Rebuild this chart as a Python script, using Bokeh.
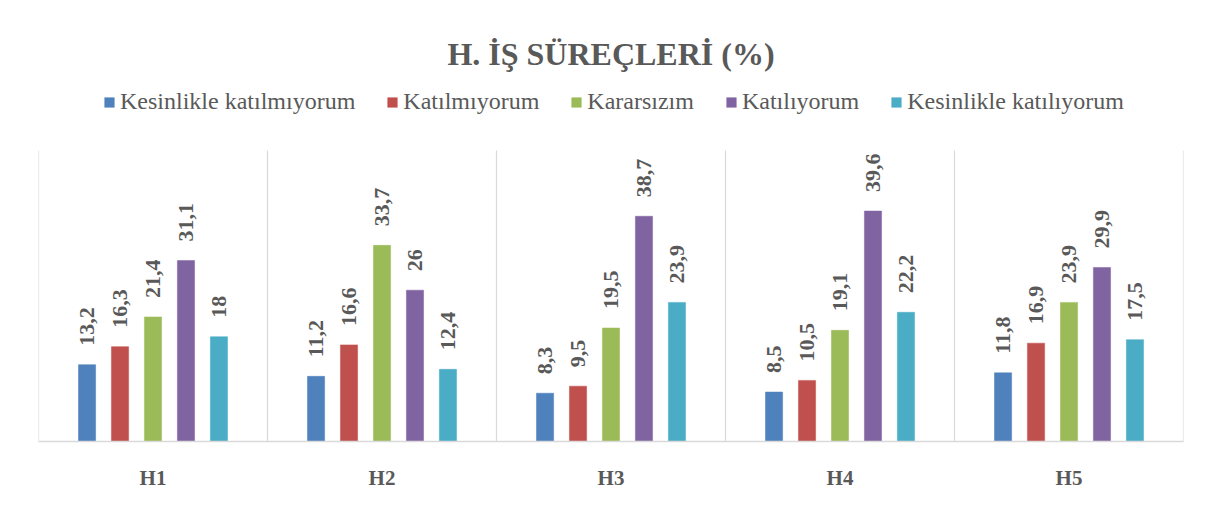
import math
from bokeh.plotting import figure
from bokeh.models import ColumnDataSource, FactorRange, Label, Legend, LegendItem, Range1d
from bokeh.transform import dodge
from bokeh.core.properties import value
from bokeh.embed import file_html
from bokeh.resources import INLINE

# ---- data ----
categories = ["H1", "H2", "H3", "H4", "H5"]
series_names = ["Kesinlikle katılmıyorum", "Katılmıyorum", "Kararsızım",
                "Katılıyorum", "Kesinlikle katılıyorum"]
kesinlikle_katilmiyorum = [13.2, 11.2, 8.3, 8.5, 11.8]
katilmiyorum = [16.3, 16.6, 9.5, 10.5, 16.9]
kararsizim = [21.4, 33.7, 19.5, 19.1, 23.9]
katiliyorum = [31.1, 26.0, 38.7, 39.6, 29.9]
kesinlikle_katiliyorum = [18.0, 12.4, 23.9, 22.2, 17.5]
series_values = [kesinlikle_katilmiyorum, katilmiyorum, kararsizim,
                 katiliyorum, kesinlikle_katiliyorum]
title_text = "H. İŞ SÜREÇLERİ (%)"
y_max = 50

# ---- styles / layout ----
colors = ["#4f81bd", "#c0504d", "#9bbb59", "#8064a2", "#4bacc6"]
FONT = "Liberation Serif"
LEGEND_FONT = "'Liberation Serif', 'Times New Roman', serif"
TXT = "#595959"
GRID = "#d9d9d9"
offsets = [-0.288, -0.144, 0.0, 0.144, 0.288]
bar_w = 0.075

W, H = 1200, 507
LEFT, RIGHT_EDGE = 38, 1183       # frame left / right (px)
PLOT_TOP, BASE = 150, 441         # top of bar area / baseline (px)
TITLE_Y, LEGEND_Y = 53, 101       # centres (px)
px_per_unit = (BASE - PLOT_TOP) / y_max
y_top = BASE / px_per_unit        # frame reaches the top of the figure


def fmt(v):
    return ("%g" % v).replace(".", ",")


data = {"cat": categories}
for i, vals in enumerate(series_values):
    data["s%d" % i] = vals
    data["l%d" % i] = [fmt(v) for v in vals]
src = ColumnDataSource(data)

p = figure(x_range=FactorRange(*categories), y_range=Range1d(0, y_top),
           width=W, height=H, output_backend="svg", toolbar_location=None,
           min_border_left=LEFT, min_border_right=W - RIGHT_EDGE, min_border_top=0,
           min_border_bottom=H - BASE)
p.background_fill_color = "white"
p.border_fill_color = "white"
p.outline_line_color = None
p.xgrid.grid_line_color = None
p.ygrid.grid_line_color = None
p.yaxis.visible = False
p.x_range.range_padding = 0

xa = p.xaxis[0]
xa.axis_line_color = GRID
xa.axis_line_width = 1.5
xa.major_tick_line_color = None
xa.minor_tick_line_color = None
xa.major_label_text_font = FONT
xa.major_label_text_font_style = "bold"
xa.major_label_text_font_size = "21px"
xa.major_label_text_color = TXT
xa.major_label_standoff = 18

# category separators, spanning the value range
bounds = list(range(len(categories) + 1))
p.segment(x0=bounds, y0=[0] * len(bounds), x1=bounds, y1=[y_max] * len(bounds),
          line_color=GRID, line_width=1.2)

items = []
for i, (name, col, off) in enumerate(zip(series_names, colors, offsets)):
    r = p.vbar(x=dodge("cat", off, range=p.x_range), top="s%d" % i, width=bar_w,
               source=src, fill_color=col, line_color=col, line_width=0.5)
    p.text(x=dodge("cat", off, range=p.x_range), y="s%d" % i, text="l%d" % i,
           angle=math.pi / 2, text_align="left", text_baseline="middle",
           y_offset=-19, text_font=value(FONT), text_font_style="bold",
           text_font_size="22px", text_color=TXT, source=src)
    items.append(LegendItem(label=name, renderers=[r]))

legend_h = 28
legend = Legend(items=items, orientation="horizontal",
                location=(103 - LEFT, BASE - LEGEND_Y - legend_h / 2),
                label_text_font=LEGEND_FONT, label_text_font_size="24px",
                label_text_color=TXT, glyph_width=12, glyph_height=12,
                spacing=31, label_standoff=5, padding=0, margin=0,
                border_line_color=None, background_fill_alpha=0)
p.add_layout(legend, "center")

p.add_layout(Label(x=len(categories) / 2, y=(BASE - TITLE_Y) / px_per_unit,
                   text=title_text, text_align="center", text_baseline="middle",
                   text_font=FONT, text_font_size="32px", text_font_style="bold",
                   text_color=TXT))

open("out.html", "w").write(file_html(p, INLINE))
